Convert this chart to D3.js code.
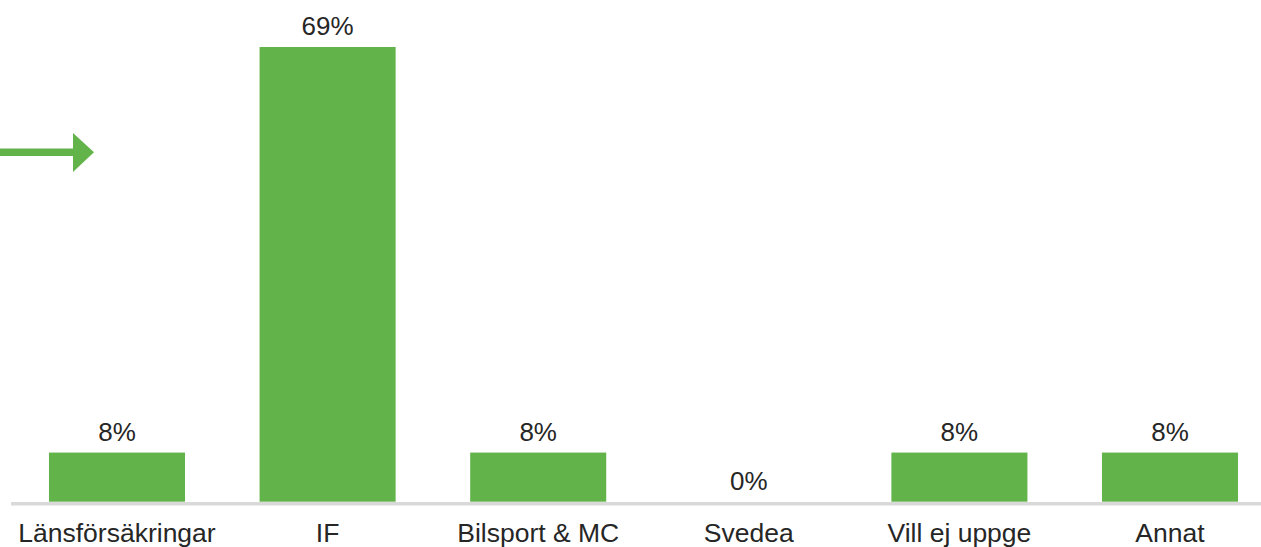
<!DOCTYPE html>
<html>
<head>
<meta charset="utf-8">
<script src="https://cdn.jsdelivr.net/npm/d3@7"></script>
<style>
  html, body { margin: 0; padding: 0; background: #fff; }
  svg { display: block; }
</style>
</head>
<body>
<svg id="chart"></svg>
<script>
// survey answers, shares in percent
const categories = ["Länsförsäkringar", "IF", "Bilsport & MC", "Svedea", "Vill ej uppge", "Annat"];
const values = [7.5, 69.4, 7.5, 0, 7.5, 7.5];
const valueLabels = ["8%", "69%", "8%", "0%", "8%", "8%"];

const W = 1261, H = 547;
const svg = d3.select("#chart")
  .attr("width", W)
  .attr("height", H)
  .style("font-family", "'Liberation Sans', Arial, sans-serif");

const green = "#63b34b";
const textColor = "#262626";

const x = d3.scaleBand()
  .domain(categories)
  .range([11.7, 1275.3])
  .paddingInner(0.354)
  .paddingOuter(0.177);

const y = d3.scaleLinear()
  .domain([0, d3.max(values)])
  .range([501.7, 47]);

const data = categories.map((c, i) => ({ cat: c, value: values[i], label: valueLabels[i] }));

// bars
svg.append("g")
  .selectAll("rect")
  .data(data)
  .join("rect")
  .attr("x", d => x(d.cat))
  .attr("y", d => y(d.value))
  .attr("width", x.bandwidth())
  .attr("height", d => y(0) - y(d.value))
  .attr("fill", green);

// baseline
svg.append("line")
  .attr("x1", 11)
  .attr("x2", W)
  .attr("y1", 503.7)
  .attr("y2", 503.7)
  .attr("stroke", "#d9d9d9")
  .attr("stroke-width", 3.5);

// value labels
svg.append("g")
  .selectAll("text")
  .data(data)
  .join("text")
  .attr("x", d => x(d.cat) + x.bandwidth() / 2)
  .attr("y", d => y(d.value) - 12)
  .attr("text-anchor", "middle")
  .attr("fill", textColor)
  .style("font-size", "26px")
  .text(d => d.label);

// category labels
svg.append("g")
  .selectAll("text")
  .data(data)
  .join("text")
  .attr("x", d => x(d.cat) + x.bandwidth() / 2)
  .attr("y", 542)
  .attr("text-anchor", "middle")
  .attr("fill", textColor)
  .style("font-size", "26.5px")
  .text(d => d.cat);

// arrow pointing at the chart
svg.append("rect")
  .attr("x", 0)
  .attr("y", 148.5)
  .attr("width", 75)
  .attr("height", 7.5)
  .attr("fill", green);
svg.append("path")
  .attr("d", "M73,133 L94,152.3 L73,172 Z")
  .attr("fill", green);
</script>
</body>
</html>
